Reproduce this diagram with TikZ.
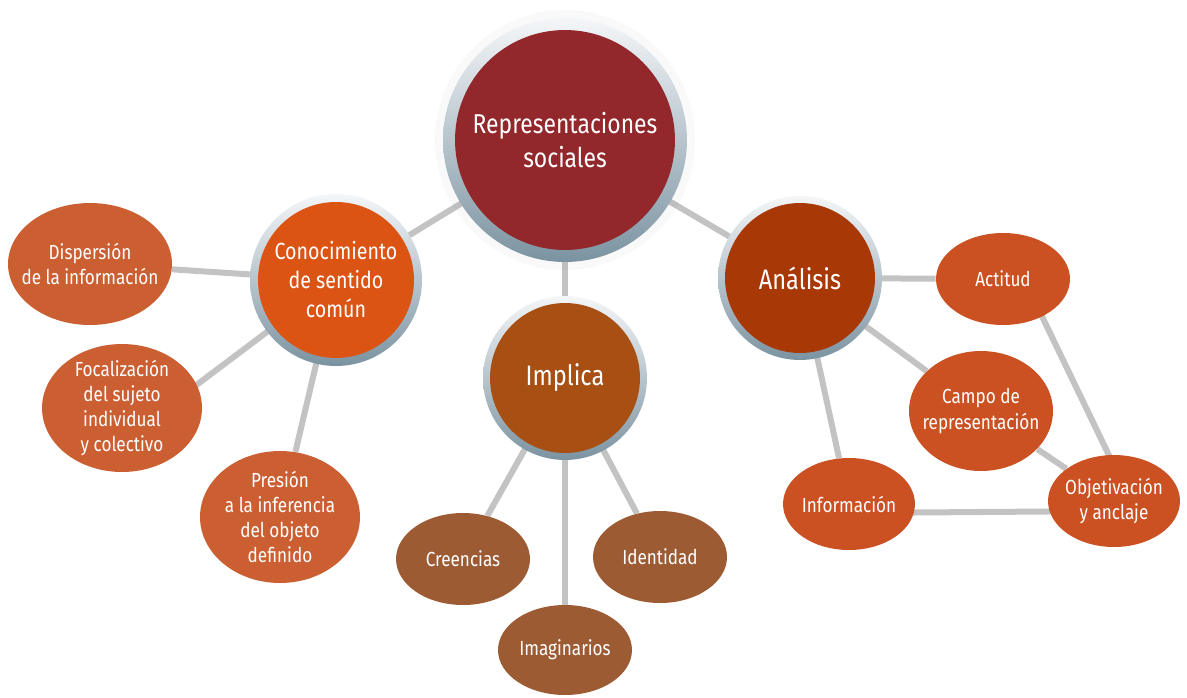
\documentclass[tikz,border=0pt]{standalone}
\usepackage{fontspec}
\setmainfont{Fira Sans}[FakeStretch=0.84]
\usetikzlibrary{shapes.geometric}
\pgfdeclarelayer{lines}
\pgfdeclarelayer{rings}
\pgfsetlayers{lines,rings,main}
\definecolor{repred}{HTML}{93282C}
\definecolor{conorange}{HTML}{DC5413}
\definecolor{impbrown}{HTML}{A84F13}
\definecolor{anarust}{HTML}{A83806}
\definecolor{leftleaf}{HTML}{CB5F32}
\definecolor{midleaf}{HTML}{9D5B33}
\definecolor{rightleaf}{HTML}{CB5123}
\definecolor{linkgrey}{HTML}{C3C3C3}
\definecolor{ringtop}{HTML}{F4F6F8}
\definecolor{ringbot}{HTML}{7B93A1}

\begin{document}
\begin{tikzpicture}[
     x=0.02cm, y=-0.02cm,
     hub/.style={circle,inner sep=0pt,align=center,text=white},
     leaf/.style={ellipse,inner xsep=-12pt,inner ysep=-8pt,align=center,text=white,
       font=\fontsize{11.6}{14.4}\selectfont},
     link/.style={line width=0.12cm,draw=linkgrey},
     ring/.style={top color=ringtop,bottom color=ringbot}
   ]
   \path[use as bounding box] (0,0) rectangle (1187,697);
   % Hubs.
   \node[hub,fill=repred,minimum size=4.4cm,font=\fontsize{15.5}{19}\selectfont] (rep) at (565,140) {Representaciones\\sociales};
   \node[hub,fill=conorange,minimum size=3.12cm,font=\fontsize{13.3}{16.5}\selectfont] (con) at (336,280) {Conocimiento\\de sentido\\común};
   \node[hub,fill=impbrown,minimum size=3cm,font=\fontsize{16}{19}\selectfont] (imp) at (565,378) {Implica};
   \node[hub,fill=anarust,minimum size=3cm,font=\fontsize{16}{19}\selectfont] (ana) at (800,278) {Análisis};
   % Leaves.
   \node[leaf,fill=leftleaf,minimum width=3.28cm,minimum height=2.44cm] (dis) at (90,264) {Dispersión\\de la información};
   \node[leaf,fill=leftleaf,minimum width=3.2cm,minimum height=2.56cm] (foc) at (122,408) {Focalización\\del sujeto\\individual\\y colectivo};
   \node[leaf,fill=leftleaf,minimum width=3.2cm,minimum height=2.64cm] (pre) at (280,517) {Presión\\a la inferencia\\del objeto\\definido};
   \node[leaf,fill=midleaf,minimum width=2.68cm,minimum height=1.84cm] (cre) at (463,559) {Creencias};
   \node[leaf,fill=midleaf,minimum width=2.68cm,minimum height=1.84cm] (ide) at (660,557) {Identidad};
   \node[leaf,fill=midleaf,minimum width=2.68cm,minimum height=1.8cm] (ima) at (565,650) {Imaginarios};
   \node[leaf,fill=rightleaf,minimum width=2.68cm,minimum height=1.84cm] (act) at (1003,279) {Actitud};
   \node[leaf,fill=rightleaf,minimum width=2.88cm,minimum height=2.4cm] (cam) at (981,411) {Campo de\\representación};
   \node[leaf,fill=rightleaf,minimum width=2.64cm,minimum height=1.84cm] (inf) at (849,504) {Información};
   \node[leaf,fill=rightleaf,minimum width=2.64cm,minimum height=1.84cm] (obj) at (1114,501) {Objetivación\\y anclaje};
   % Rings.
   \begin{pgfonlayer}{rings}
     \fill[black,opacity=0.025] (rep.center) circle (2.6cm) circle (2.55cm) circle (2.5cm);
     \shade[ring] (rep.center) circle (2.44cm);
     \shade[ring] (con.center) circle (1.72cm);
     \shade[ring] (imp.center) circle (1.64cm);
     \shade[ring] (ana.center) circle (1.64cm);
   \end{pgfonlayer}
   % Links.
   \begin{pgfonlayer}{lines}
     \draw[link] (rep) -- (con);
     \draw[link] (rep) -- (imp);
     \draw[link] (rep) -- (ana);
     \draw[link] (con) -- (dis);
     \draw[link] (con.center) -- ([yshift=-0.66cm]foc.center);
     \draw[link] (con) -- (pre);
     \draw[link] (imp) -- (cre);
     \draw[link] (imp) -- (ima);
     \draw[link] (imp) -- (ide);
     \draw[link] (ana) -- (act);
     \draw[link] (ana) -- (cam);
     \draw[link] (ana) -- (inf);
     \draw[link] ([xshift=0.42cm]act.center) -- ([xshift=0.34cm]obj.center);
     \draw[link] (cam) -- (obj);
     \draw[link] ([yshift=-0.18cm]inf.center) -- ([yshift=-0.2cm]obj.center);
   \end{pgfonlayer}
 \end{tikzpicture}
\end{document}
